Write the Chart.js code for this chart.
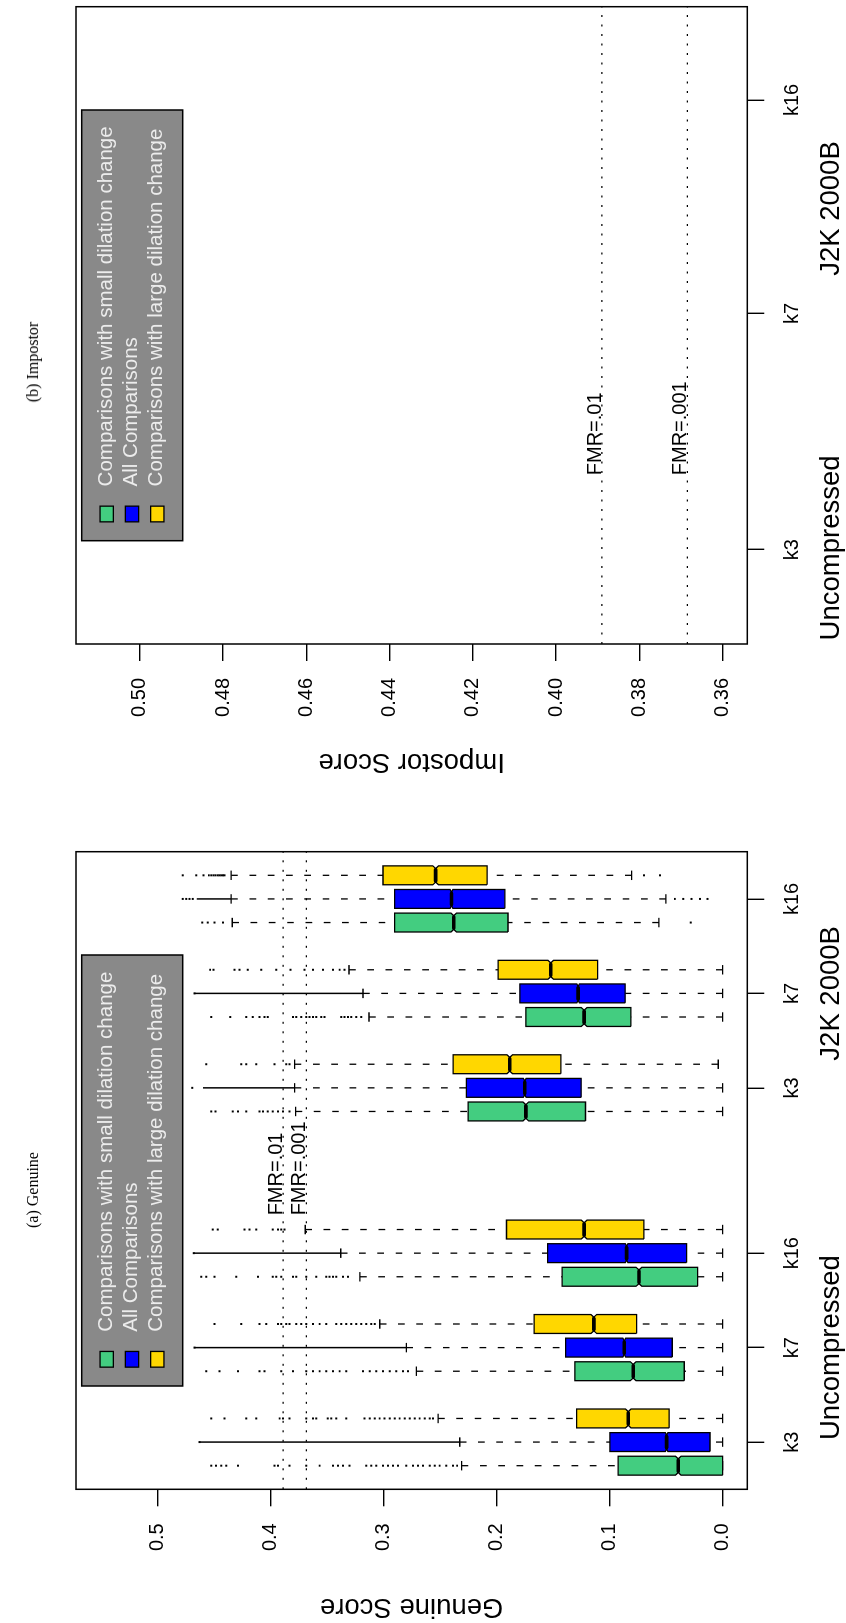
<!DOCTYPE html>
<html><head><meta charset="utf-8">
<script src="https://cdn.jsdelivr.net/npm/chart.js@4/dist/chart.umd.min.js"></script>
<style>
html,body{margin:0;padding:0;background:#fff;}
body{width:846px;height:1623px;position:relative;overflow:hidden;}
.panel{position:absolute;left:0;width:846px;}
.panel canvas{position:absolute;left:0;top:0;transform-origin:0 0;}
.cap{position:absolute;font-family:'Liberation Serif','Times New Roman',serif;font-size:16px;color:#000;white-space:nowrap;transform:translate(-50%,-50%) rotate(-90deg);}
</style></head><body>
<div class="panel" style="top:0;height:790px"><canvas id="cb" width="790" height="846" style="transform:translate(0,790px) rotate(-90deg)"></canvas></div>
<div class="panel" style="top:790px;height:833px"><canvas id="ca" width="833" height="846" style="transform:translate(0,833px) rotate(-90deg)"></canvas></div>
<div class="cap" style="left:33px;top:362px">(b) Impostor</div>
<div class="cap" style="left:33px;top:1190px">(a) Genuine</div>
<script>
// ---------- data ----------
const categoryLabels = ['k3','k7','k16','k3','k7','k16'];
const categoryPositions = [2,6,10,17,21,25];
const groupLabels = ['Uncompressed','J2K 2000B'];
const groupPositions = [6,21];
const seriesNames = ['Comparisons with small dilation change','All Comparisons','Comparisons with large dilation change'];
const seriesColors = ['#43CD80','#0000FF','#FFD700'];
const seriesOffsets = [-1,0,1];
const notchHalf = [0.0025,0.0012,0.0025];

const genuineTicks = [0,0.1,0.2,0.3,0.4,0.5];
const genuineTickLabels = ['0.0','0.1','0.2','0.3','0.4','0.5'];
const impostorTicks = [0.36,0.38,0.40,0.42,0.44,0.46,0.48,0.50];
const impostorTickLabels = ['0.36','0.38','0.40','0.42','0.44','0.46','0.48','0.50'];
const impostorCategoryLabels = ['k3','k7','k16'];
const impostorCategoryPositions = [4,14,23.05];
const impostorGroupPositions = [4.07,18.45];

const fmrValues = [0.389,0.3685];
const fmrLabels = ['FMR=.01','FMR=.001'];

// [low whisker, Q1, median, Q3, high whisker] per category
const smallBoxes = [
  [0.000,0.000,0.0393,0.0925,0.231],
  [0.000,0.034,0.0792,0.1308,0.271],
  [0.000,0.0221,0.0741,0.142,0.321],
  [0.000,0.1214,0.1742,0.2253,0.378],
  [0.000,0.0812,0.1226,0.1742,0.313],
  [0.0564,0.190,0.238,0.2903,0.434]
];
const allBoxes = [
  [0.000,0.0112,0.0496,0.0998,0.2327],
  [0.000,0.0446,0.0871,0.139,0.280],
  [0.000,0.0319,0.085,0.155,0.338],
  [0.000,0.1252,0.1752,0.2268,0.3788],
  [0.000,0.0863,0.1279,0.1795,0.3183],
  [0.0502,0.1928,0.240,0.2903,0.435]
];
const largeBoxes = [
  [0.000,0.0473,0.0836,0.1293,0.2519],
  [0.000,0.0762,0.114,0.1669,0.3035],
  [0.000,0.0697,0.1226,0.1913,0.3694],
  [0.0039,0.1432,0.1884,0.2386,0.3788],
  [0.000,0.1107,0.1521,0.1988,0.3307],
  [0.0806,0.2085,0.254,0.3006,0.435]
];

const smallOutliers = [
  [0.4527,0.4483,0.4438,0.4394,0.4290,0.3966,0.3936,0.3833,0.3685,0.3567,0.3449,0.3405,0.3361,0.3302,0.3154,0.3110,0.3065,0.3006,0.2962,0.2918,0.2873,0.2800,0.2741,0.2697,0.2652,0.2593,0.2549,0.2505,0.2446,0.2387,0.2350],
  [0.4571,0.4453,0.4290,0.4099,0.4054,0.3907,0.3803,0.3685,0.3626,0.3567,0.3508,0.3449,0.3390,0.3331,0.3184,0.3124,0.3065,0.3006,0.2947,0.2888,0.2829,0.2785],
  [0.4615,0.4571,0.4497,0.4305,0.4113,0.3981,0.3951,0.3907,0.3803,0.3774,0.3685,0.3597,0.3508,0.3479,0.3449,0.3420,0.3361,0.3316],
  [0.4527,0.4488,0.4335,0.4290,0.4217,0.4099,0.4069,0.4025,0.3981,0.3936,0.3892,0.3833],
  [0.4527,0.4358,0.4217,0.4158,0.4099,0.4054,0.4025,0.3803,0.3774,0.3730,0.3685,0.3656,0.3626,0.3597,0.3553,0.3523,0.3375,0.3346,0.3316,0.3287,0.3243,0.3198],
  [0.4606,0.4556,0.4497,0.4423,0.0283]
];
const largeOutliers = [
  [0.4527,0.4409,0.4217,0.4128,0.3921,0.3892,0.3833,0.3685,0.3626,0.3597,0.3494,0.3464,0.3420,0.3331,0.3169,0.3124,0.3080,0.3036,0.2992,0.2947,0.2903,0.2859,0.2814,0.2770,0.2726,0.2682,0.2637,0.2593,0.2564],
  [0.4497,0.4261,0.4099,0.4040,0.3936,0.3907,0.3862,0.3833,0.3774,0.3730,0.3685,0.3626,0.3567,0.3508,0.3420,0.3375,0.3331,0.3287,0.3243,0.3198,0.3154,0.3110,0.3080],
  [0.4512,0.4468,0.4231,0.4187,0.4128,0.3981,0.3936,0.3907,0.3877],
  [0.4571,0.4261,0.4217,0.4128,0.3966,0.3862,0.3833],
  [0.4536,0.4506,0.4320,0.4276,0.4202,0.4084,0.3951,0.3824,0.3700,0.3626,0.3538,0.3449,0.3390,0.3346],
  [0.4778,0.4659,0.4595,0.4547,0.4527,0.4506,0.4488,0.4468,0.4453,0.4438,0.4423,0.4409,0.0697,0.0555]
];
const allOutliers = [
  [0.4630],
  [0.4674],
  [0.4680],
  [0.4695],
  [0.4674],
  [0.4778,0.4748,0.4719,0.4690,0.0423,0.0349,0.0275,0.0201,0.0134]
];
// dense runs of outliers that print as a solid line: [from, to]
const allOutlierBands = [
  [[0.2327,0.4630]],
  [[0.2800,0.4674]],
  [[0.3380,0.4680]],
  [[0.3788,0.4600]],
  [[0.3183,0.4674]],
  [[0.4350,0.4655]]
];

// ---------- drawing ----------
const FONT = '"Liberation Sans", Arial, Helvetica, sans-serif';
Chart.defaults.font.family = FONT;
Chart.defaults.color = '#000';
const BOX_W = 0.4, CAP_W = 0.2, NOTCH_IN = 0.11;

function genuineDatasets() {
  const ds = [];
  fmrValues.forEach(v => ds.push({data:[{x:0,y:v},{x:27,y:v}], borderColor:'#000', borderWidth:1.3, borderDash:[2,7.5], order:0}));
  const seriesBoxes = [smallBoxes, allBoxes, largeBoxes];
  const seriesOut = [smallOutliers, allOutliers, largeOutliers];
  seriesBoxes.forEach((boxes, si) => {
    const med = [], wh = [], caps = [], pts = [], bands = [];
    boxes.forEach((b, ci) => {
      const x = categoryPositions[ci] + seriesOffsets[si];
      const [lo, q1, m, q3, hi] = b;
      const n = notchHalf[si], w = BOX_W, wi = BOX_W - NOTCH_IN;
      ds.push({
        data:[{x:x-w,y:q1},{x:x-w,y:m-n},{x:x-wi,y:m},{x:x-w,y:m+n},{x:x-w,y:q3},
              {x:x+w,y:q3},{x:x+w,y:m+n},{x:x+wi,y:m},{x:x+w,y:m-n},{x:x+w,y:q1},{x:x-w,y:q1}],
        fill:'shape', backgroundColor:seriesColors[si], borderColor:'#000', borderWidth:1.3,
        borderJoinStyle:'miter', order:2
      });
      med.push({x:x-wi+0.05,y:m},{x:x+wi-0.05,y:m},{x:x,y:null});
      wh.push({x:x,y:hi},{x:x,y:q3},{x:x,y:null},{x:x,y:lo},{x:x,y:q1},{x:x,y:null});
      caps.push({x:x-CAP_W,y:hi},{x:x+CAP_W,y:hi},{x:x,y:null},{x:x-CAP_W,y:lo},{x:x+CAP_W,y:lo},{x:x,y:null});
      seriesOut[si][ci].forEach(v => pts.push({x:x,y:v}));
      if (si === 1) allOutlierBands[ci].forEach(r => bands.push({x:x,y:r[0]},{x:x,y:r[1]},{x:x,y:null}));
    });
    ds.push({data:med, borderColor:'#000', borderWidth:3.6, borderCapStyle:'round', order:1});
    ds.push({data:wh, borderColor:'#000', borderWidth:1.3, borderDash:[6.7,11.6], order:3});
    ds.push({data:caps, borderColor:'#000', borderWidth:1.3, order:3});
    ds.push({data:pts, showLine:false, pointRadius:1.4, pointStyle:'rect', pointBackgroundColor:'#000', pointBorderWidth:0, order:4});
    if (bands.length) ds.push({data:bands, borderColor:'#000', borderWidth:1.5, order:4});
  });
  return ds;
}

function impostorDatasets() {
  return fmrValues.map(v => ({data:[{x:0,y:v},{x:27,y:v}], borderColor:'#000', borderWidth:1.3, borderDash:[2,7.5], order:0}));
}

const framePlugin = {
  id:'frameAndLegend',
  afterDatasetsDraw(chart) {
    const {ctx, chartArea:a} = chart;
    ctx.save();
    ctx.strokeStyle = '#000'; ctx.lineWidth = 1.5;
    ctx.strokeRect(a.left, a.top, a.right - a.left, a.bottom - a.top);
    // legend
    const x0 = a.left + 103.3, x1 = a.right - 103.3, y0 = a.top + 5.7, h = 101;
    ctx.fillStyle = '#898989'; ctx.fillRect(x0, y0, x1 - x0, h);
    ctx.lineWidth = 1.5; ctx.strokeRect(x0, y0, x1 - x0, h);
    ctx.font = '20.5px ' + FONT; ctx.textBaseline = 'middle'; ctx.textAlign = 'left';
    seriesNames.forEach((name, i) => {
      const cy = y0 + 25 + i * 25.3;
      ctx.fillStyle = seriesColors[i];
      ctx.fillRect(x0 + 26.7 - 7.85, cy - 6.65, 15.7, 13.3);
      ctx.lineWidth = 1.3; ctx.strokeStyle = '#000';
      ctx.strokeRect(x0 + 26.7 - 7.85, cy - 6.65, 15.7, 13.3);
      ctx.fillStyle = '#ececec';
      ctx.fillText(name, x0 + 54.3, cy - 0.5);
    });
    // FMR labels
    const pos = chart.options.plugins.frameAndLegend.fmrPos;
    ctx.fillStyle = '#000'; ctx.font = '20px ' + FONT; ctx.textBaseline = 'alphabetic';
    fmrValues.forEach((v, i) => {
      ctx.fillText(fmrLabels[i], chart.scales.x.getPixelForValue(pos), chart.scales.y.getPixelForValue(v) - 1);
    });
    ctx.restore();
  }
};

function makeChart(id, cfg) {
  const tickMap = (vals, labels) => (v) => { const i = vals.findIndex(t => Math.abs(t - v) < 1e-9); return i >= 0 ? labels[i] : ''; };
  return new Chart(document.getElementById(id), {
    type:'line',
    data:{datasets:cfg.datasets},
    options:{
      responsive:false, animation:false, events:[],
      layout:{padding:{left:cfg.padLeft, right:cfg.padRight, top:76, bottom:0}},
      elements:{point:{radius:0}, line:{tension:0}},
      plugins:{legend:{display:false}, tooltip:{enabled:false}, title:{display:false}, frameAndLegend:{fmrPos:cfg.fmrPos}},
      scales:{
        x:{type:'linear', position:'bottom', min:0, max:27, weight:0,
           afterBuildTicks:s => { s.ticks = cfg.catPos.map(v => ({value:v})); },
           afterFit:s => { s.height = 60; },
           ticks:{autoSkip:false, maxRotation:0, minRotation:0, padding:16.4, color:'#000', font:{size:20}, callback:tickMap(cfg.catPos, cfg.catLabels)},
           grid:{drawOnChartArea:false, drawTicks:true, tickLength:17, color:'#000', lineWidth:1.4},
           border:{display:false}},
        x2:{type:'linear', position:'bottom', min:0, max:27, weight:1,
           afterBuildTicks:s => { s.ticks = cfg.groupPos.map(v => ({value:v})); },
           afterFit:s => { s.height = 38.7; },
           ticks:{autoSkip:false, maxRotation:0, minRotation:0, padding:7.9, color:'#000', font:{size:27.5}, callback:tickMap(cfg.groupPos, groupLabels)},
           grid:{display:false, drawTicks:false},
           border:{display:false}},
        y:{type:'linear', position:'left', min:cfg.yMin, max:cfg.yMax,
           afterBuildTicks:s => { s.ticks = cfg.yTicks.map(v => ({value:v})); },
           afterFit:s => { s.width = 133.7; },
           ticks:{padding:17, color:'#000', font:{size:20}, callback:tickMap(cfg.yTicks, cfg.yLabels)},
           grid:{drawOnChartArea:false, drawTicks:true, tickLength:17, color:'#000', lineWidth:1.4},
           border:{display:false},
           title:{display:true, text:cfg.yTitle, color:'#000', font:{size:27.5}, padding:{top:0, bottom:0}}}
      }
    },
    plugins:[framePlugin]
  });
}

makeChart('ca', {
  datasets:genuineDatasets(), padLeft:0, padRight:61.7,
  yMin:-0.0218, yMax:0.5723, yTicks:genuineTicks, yLabels:genuineTickLabels, yTitle:'Genuine Score',
  catPos:categoryPositions, catLabels:categoryLabels, groupPos:groupPositions, fmrPos:11.6
});
makeChart('cb', {
  datasets:impostorDatasets(), padLeft:12.3, padRight:6.7,
  yMin:0.3541, yMax:0.5153, yTicks:impostorTicks, yLabels:impostorTickLabels, yTitle:'Impostor Score',
  catPos:impostorCategoryPositions, catLabels:impostorCategoryLabels, groupPos:impostorGroupPositions, fmrPos:7.15
});
</script>
</body></html>
